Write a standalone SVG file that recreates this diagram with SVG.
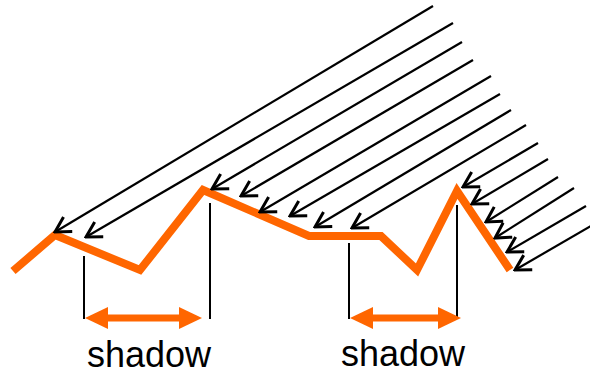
<svg xmlns="http://www.w3.org/2000/svg" width="590" height="375" viewBox="0 0 590 375">
  <style>
    .ray { stroke: #000; stroke-width: 2.2; fill: none; marker-end: url(#open); }
    .vert { stroke: #000; stroke-width: 2; fill: none; }
    .terrain { stroke: #FF6600; stroke-width: 8; fill: none; stroke-linejoin: miter; stroke-linecap: butt; }
    .shaft { stroke: #FF6600; stroke-width: 7; fill: none; }
    .head { fill: #FF6600; stroke: none; }
    .label { font-family: "Liberation Sans", Arial, sans-serif; font-size: 36px; fill: #000; }
  </style>
  <defs>
    <marker id="open" markerUnits="userSpaceOnUse" viewBox="-18 -11 20 22" markerWidth="20" markerHeight="22" refX="0" refY="0" orient="auto">
      <path d="M -15 -8.5 L 0 0 L -15 8.5" fill="none" stroke="#000" stroke-width="3"/>
    </marker>
  </defs>

  <g id="terrain">
    <polyline class="terrain" points="13,271 55,235 140,270 203,190 309,236 381,236 417,270 457,191 510,270"/>
  </g>

  <g id="connectors">
    <line class="ray" x1="433" y1="6" x2="55" y2="232"/>
    <line class="ray" x1="453" y1="23" x2="86" y2="237"/>
    <line class="ray" x1="462" y1="42" x2="212" y2="189"/>
    <line class="ray" x1="473" y1="60" x2="241" y2="196"/>
    <line class="ray" x1="491" y1="76" x2="260" y2="212"/>
    <line class="ray" x1="500" y1="94" x2="290" y2="216"/>
    <line class="ray" x1="511" y1="110" x2="315" y2="227"/>
    <line class="ray" x1="526" y1="125" x2="352" y2="228"/>
    <line class="ray" x1="538" y1="143" x2="463" y2="187"/>
    <line class="ray" x1="548" y1="159" x2="472" y2="204"/>
    <line class="ray" x1="558" y1="177" x2="486" y2="222"/>
    <line class="ray" x1="574" y1="188" x2="495" y2="238"/>
    <line class="ray" x1="586" y1="206" x2="507" y2="252"/>
    <line class="ray" x1="596" y1="223" x2="515" y2="270"/>
  </g>

  <g id="shadow1">
    <line class="vert" x1="84" y1="256" x2="84" y2="319"/>
    <line class="vert" x1="210" y1="203" x2="210" y2="319"/>
    <line class="shaft" x1="100" y1="318" x2="188" y2="318"/>
    <polygon class="head" points="85,318 108,307 108,329"/>
    <polygon class="head" points="202,318 179,307 179,329"/>
    <text class="label" x="87" y="367">shadow</text>
  </g>

  <g id="shadow2">
    <line class="vert" x1="349" y1="243" x2="349" y2="319"/>
    <line class="vert" x1="457" y1="205" x2="457" y2="319"/>
    <line class="shaft" x1="365" y1="318" x2="446" y2="318"/>
    <polygon class="head" points="350,318 373,307 373,329"/>
    <polygon class="head" points="461,318 438,307 438,329"/>
    <text class="label" x="341" y="366">shadow</text>
  </g>
</svg>
